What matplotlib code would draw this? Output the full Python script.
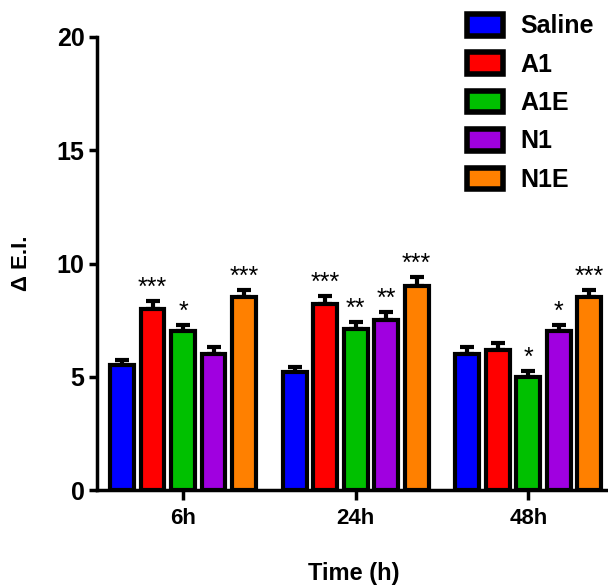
import numpy as np
import matplotlib.pyplot as plt
from matplotlib.patches import Patch

plt.rcParams['font.family'] = ['Liberation Sans', 'DejaVu Sans']

# data
times = ['6h', '24h', '48h']
groups = ['Saline', 'A1', 'A1E', 'N1', 'N1E']
colors = ['#0000ff', '#ff0000', '#00c000', '#a000e0', '#ff8000']
means = {
    'Saline': [5.5, 5.2, 6.0],
    'A1':     [8.0, 8.2, 6.2],
    'A1E':    [7.0, 7.1, 5.0],
    'N1':     [6.0, 7.5, 7.0],
    'N1E':    [8.5, 9.0, 8.5],
}
errs = {
    'Saline': [0.25, 0.25, 0.3],
    'A1':     [0.35, 0.35, 0.3],
    'A1E':    [0.3, 0.3, 0.25],
    'N1':     [0.3, 0.35, 0.3],
    'N1E':    [0.35, 0.4, 0.35],
}
stars = {
    'Saline': ['', '', ''],
    'A1':     ['***', '***', ''],
    'A1E':    ['*', '**', '*'],
    'N1':     ['', '**', '*'],
    'N1E':    ['***', '***', '***'],
}

fig = plt.figure(figsize=(6.08, 5.88), dpi=100)
ax = fig.add_axes([97/608, 98/588, 513/608, 453/588])

centers = np.arange(len(times)) * 5.66
for i, g in enumerate(groups):
    x = centers + (i - 2)
    ax.errorbar(x, means[g], yerr=[np.zeros(3), errs[g]], fmt='none',
                ecolor='black', elinewidth=3, capsize=5, capthick=3, zorder=2)
    ax.bar(x, means[g], width=0.78, color=colors[i], edgecolor='black',
           linewidth=3, zorder=3)
    for xi, m, e, s in zip(x, means[g], errs[g], stars[g]):
        if s:
            ax.text(xi, m + e + 0.05, s, ha='center', va='bottom', fontsize=18)

ax.set_xlim(-2.82, 14.0)
ax.set_ylim(0, 20)
ax.set_xticks(centers)
ax.set_xticklabels(times, fontsize=16, fontweight='bold')
ax.set_yticks([0, 5, 10, 15, 20])
ax.set_yticklabels(['0', '5', '10', '15', '20'], fontsize=18, fontweight='bold')
ax.tick_params(width=2.5, length=6, pad=3)
ax.tick_params(axis='x', length=7, pad=6)
for sp in ['top', 'right']:
    ax.spines[sp].set_visible(False)
for sp in ['left', 'bottom']:
    ax.spines[sp].set_linewidth(2.5)

ax.set_ylabel('Δ E.I.', fontsize=16, fontweight='bold', labelpad=18)
ax.set_xlabel('Time (h)', fontsize=17, fontweight='bold', labelpad=24)

handles = [Patch(facecolor=c, edgecolor='black', linewidth=4) for c in colors]
fig.legend(handles, groups, loc='upper left', bbox_to_anchor=(467/608, 1 - 14/588),
           frameon=False, prop={'weight': 'bold', 'size': 18}, borderpad=0,
           borderaxespad=0, handlelength=1.45, handleheight=0.95,
           labelspacing=0.56, handletextpad=0.7)

plt.savefig('out.png', dpi=100)
